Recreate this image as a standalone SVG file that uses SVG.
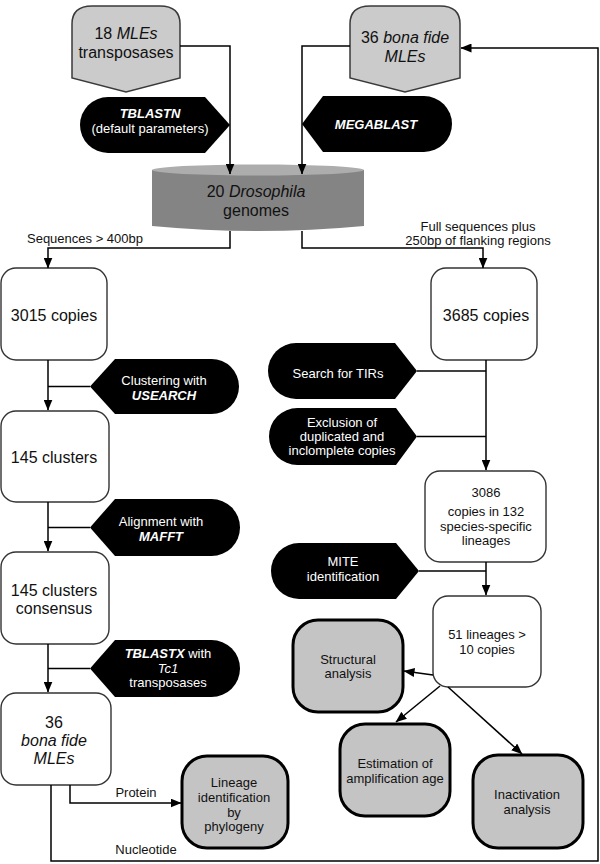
<svg xmlns="http://www.w3.org/2000/svg" width="600" height="864" viewBox="0 0 600 864">
<defs>
<marker id="ah" markerUnits="userSpaceOnUse" markerWidth="11" markerHeight="9" refX="10.5" refY="4.5" orient="auto">
<path d="M0,0 L11,4.5 L0,9 Z" fill="#000"/>
</marker>
<style>
text{font-family:"Liberation Sans",Arial,sans-serif;text-anchor:middle;fill:#111}
.big{font-size:16px}
.sm{font-size:13px}
.w{fill:#fff}
.bi{font-weight:bold;font-style:italic}
.i{font-style:italic}
.top{fill:#cbcbcb;stroke:#3a3a3a;stroke-width:1.5}
.box{fill:#fff;stroke:#333;stroke-width:1.4}
.gray{fill:#c4c4c4;stroke:#000;stroke-width:3}
.blk{fill:#000}
.ln{fill:none;stroke:#000;stroke-width:1.5}
.arr{fill:none;stroke:#000;stroke-width:1.5;marker-end:url(#ah)}
</style>
</defs>
<rect width="600" height="864" fill="#fff"/>

<g id="n_18mles">
<path class="top" d="M72,78 L72,24 C72,11 80,6 92,6 L160,6 C172,6 180,11 180,24 L180,78 L126,92 Z"/>
<text class="big" x="126" y="39">18 <tspan class="i">MLEs</tspan></text>
<text class="big" x="126" y="58">transposases</text>
</g>

<g id="n_36top">
<path class="top" d="M350,78 L350,24 C350,11 358,6 370,6 L440,6 C452,6 460,11 460,24 L460,78 L405,92 Z"/>
<text class="big" x="405" y="43">36 <tspan class="i">bona fide</tspan></text>
<text class="big i" x="405" y="62">MLEs</text>
</g>

<g id="n_tblastn">
<path class="blk" d="M108,97 L205,97 L230,125 L205,153 L108,153 A28,28 0 0 1 108,97 Z"/>
<text class="sm w bi" x="150" y="118">TBLASTN</text>
<text class="sm w" x="150" y="133">(default parameters)</text>
</g>

<g id="n_megablast">
<path class="blk" d="M302,124 L323,96 L424,96 A28,28 0 0 1 424,152 L323,152 Z"/>
<text class="sm w bi" x="376" y="129">MEGABLAST</text>
</g>

<g id="n_genomes">
<path d="M152,170 L152,226 Q258,236 364,226 L364,170 Z" fill="#848484"/>
<ellipse cx="258" cy="170" rx="106" ry="5.5" fill="#adadad"/>
<text class="big" x="256" y="197">20 <tspan class="i">Drosophila</tspan></text>
<text class="big" x="256" y="216">genomes</text>
</g>

<g id="l_seq">
<text class="sm" x="85" y="243">Sequences &gt; 400bp</text>
<text class="sm" x="478" y="231">Full sequences plus</text>
<text class="sm" x="478" y="245">250bp of flanking regions</text>
</g>

<g id="n_3015">
<rect class="box" x="1" y="268" width="106" height="92" rx="15"/>
<text class="big" x="54" y="321">3015 copies</text>
</g>

<g id="n_usearch">
<path class="blk" d="M90,386.5 L115,359 L211.5,359 A27.5,27.5 0 0 1 211.5,414 L115,414 Z"/>
<text class="sm w" x="164" y="385">Clustering with</text>
<text class="sm w bi" x="164" y="400">USEARCH</text>
</g>

<g id="n_145">
<rect class="box" x="1" y="411" width="108" height="91" rx="15"/>
<text class="big" x="54" y="463">145 clusters</text>
</g>

<g id="n_mafft">
<path class="blk" d="M90,527.5 L115,499 L211.5,499 A28.5,28.5 0 0 1 211.5,556 L115,556 Z"/>
<text class="sm w" x="161" y="526">Alignment with</text>
<text class="sm w bi" x="161" y="541">MAFFT</text>
</g>

<g id="n_consensus">
<rect class="box" x="1" y="552" width="108" height="92" rx="15"/>
<text class="big" x="54" y="596">145 clusters</text>
<text class="big" x="54" y="614">consensus</text>
</g>

<g id="n_tblastx">
<path class="blk" d="M90,668.5 L115,640 L211.5,640 A28.5,28.5 0 0 1 211.5,697 L115,697 Z"/>
<text class="sm w" x="168" y="658"><tspan class="bi">TBLASTX</tspan> with</text>
<text class="sm w i" x="168" y="673">Tc1</text>
<text class="sm w" x="168" y="687">transposases</text>
</g>

<g id="n_36left">
<rect class="box" x="1" y="693" width="110" height="92" rx="15"/>
<text class="big" x="54" y="728">36</text>
<text class="big i" x="54" y="746">bona fide</text>
<text class="big i" x="54" y="764">MLEs</text>
</g>

<g id="l_protein">
<text class="sm" x="136" y="797">Protein</text>
<text class="sm" x="146" y="854">Nucleotide</text>
</g>

<g id="n_lineage">
<rect class="gray" x="182" y="756" width="106" height="92" rx="25"/>
<text class="sm" x="234" y="787">Lineage</text>
<text class="sm" x="234" y="802">identification</text>
<text class="sm" x="234" y="817">by</text>
<text class="sm" x="234" y="831">phylogeny</text>
</g>

<g id="n_3685">
<rect class="box" x="431" y="268" width="106" height="92" rx="15"/>
<text class="big" x="486" y="321">3685 copies</text>
</g>

<g id="n_tirs">
<path class="blk" d="M296,343 L395,343 L417,371 L395,399 L296,399 A28,28 0 0 1 296,343 Z"/>
<text class="sm w" x="338" y="378">Search for TIRs</text>
</g>

<g id="n_exclusion">
<path class="blk" d="M297.5,408 L396,408 L417,436.5 L396,465 L297.5,465 A28.5,28.5 0 0 1 297.5,408 Z"/>
<text class="sm w" x="342" y="427">Exclusion of</text>
<text class="sm w" x="342" y="441">duplicated and</text>
<text class="sm w" x="342" y="455">inclomplete copies</text>
</g>

<g id="n_3086">
<rect class="box" x="425" y="471" width="121" height="91" rx="15"/>
<text class="sm" x="486" y="497">3086</text>
<text class="sm" x="486" y="516">copies in 132</text>
<text class="sm" x="486" y="531">species-specific</text>
<text class="sm" x="486" y="545">lineages</text>
</g>

<g id="n_mite">
<path class="blk" d="M299,543 L396,543 L419,571 L396,599 L299,599 A28,28 0 0 1 299,543 Z"/>
<text class="sm w" x="343" y="566">MITE</text>
<text class="sm w" x="343" y="581">identification</text>
</g>

<g id="n_51">
<rect class="box" x="433" y="596" width="108" height="91" rx="15"/>
<text class="sm" x="487" y="639">51 lineages &gt;</text>
<text class="sm" x="487" y="654">10 copies</text>
</g>

<g id="n_structural">
<rect class="gray" x="293" y="620" width="110" height="92" rx="25"/>
<text class="sm" x="348" y="664">Structural</text>
<text class="sm" x="348" y="678">analysis</text>
</g>

<g id="n_estimation">
<rect class="gray" x="340" y="724" width="110" height="92" rx="25"/>
<text class="sm" x="395" y="768">Estimation of</text>
<text class="sm" x="395" y="783">amplification age</text>
</g>

<g id="n_inactivation">
<rect class="gray" x="473" y="755" width="110" height="93" rx="25"/>
<text class="sm" x="527" y="799">Inactivation</text>
<text class="sm" x="527" y="814">analysis</text>
</g>

<g id="connectors">
<polyline class="arr" points="180,46 230,46 230,174"/>
<polyline class="arr" points="350,46 302,46 302,174"/>
<polyline class="arr" points="51,785 51,861 598,861 598,48 461,48"/>
<polyline class="arr" points="230,231 230,248 48,248 48,268"/>
<polyline class="arr" points="302,231 302,248 483,248 483,268"/>
<polyline class="arr" points="48,360 48,410"/>
<line class="ln" x1="48" y1="386.5" x2="90" y2="386.5"/>
<polyline class="arr" points="48,502 48,551"/>
<line class="ln" x1="48" y1="527.5" x2="90" y2="527.5"/>
<polyline class="arr" points="48,644 48,692"/>
<line class="ln" x1="48" y1="668.5" x2="90" y2="668.5"/>
<polyline class="arr" points="70,785 70,803 181,803"/>
<polyline class="arr" points="486,360 486,470"/>
<line class="ln" x1="417" y1="371" x2="486" y2="371"/>
<line class="ln" x1="417" y1="436.5" x2="486" y2="436.5"/>
<polyline class="arr" points="486,562 486,595"/>
<line class="ln" x1="419" y1="571" x2="486" y2="571"/>
<line class="arr" x1="433" y1="675" x2="404" y2="671"/>
<line class="arr" x1="440" y1="686" x2="396" y2="722"/>
<line class="arr" x1="448" y1="687" x2="522" y2="754"/>
</g>
</svg>
